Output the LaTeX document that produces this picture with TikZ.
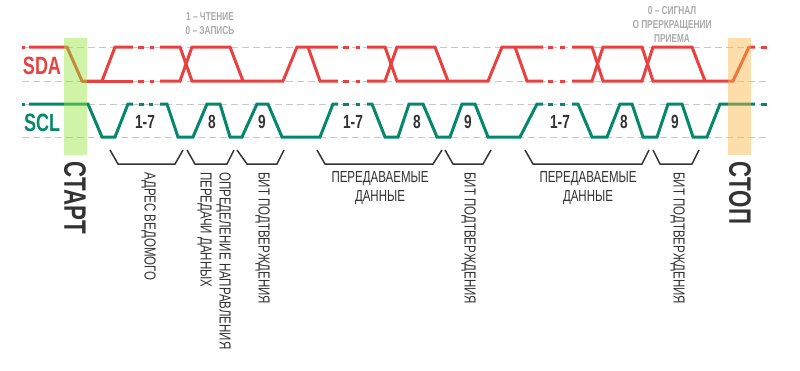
\documentclass[tikz,border=0pt]{standalone}
\usepackage{fontspec}
\setmainfont{Liberation Sans}
\newfontfamily\cnd[FakeStretch=0.72]{Liberation Sans}
\definecolor{sdared}{RGB}{232,65,63}
\definecolor{sclgreen}{RGB}{4,135,107}
\definecolor{guide}{RGB}{200,200,200}
\definecolor{txt}{RGB}{51,51,51}
\definecolor{note}{RGB}{170,170,170}
\definecolor{startfill}{RGB}{151,231,60}
\definecolor{stopfill}{RGB}{251,182,67}
\tikzset{
  guideline/.style={guide, line width=1pt, dash pattern=on 7pt off 4pt},
  sda/.style={sdared, line width=3pt, line join=miter},
  scl/.style={sclgreen, line width=3pt, line join=miter},
  brace/.style={txt, line width=1.5pt},
  bitlabel/.style={txt, font=\cnd\bfseries\fontsize{19}{19}\selectfont},
  sig/.style={font=\cnd\bfseries\fontsize{25}{25}\selectfont},
  notetext/.style={note, font=\cnd\bfseries\fontsize{11.5}{14}\selectfont, align=center},
  vtext/.style={txt, font=\cnd\fontsize{16}{19}\selectfont, rotate=-90, anchor=north west, align=left, inner sep=0pt},
  htext/.style={txt, font=\cnd\fontsize{16}{19.5}\selectfont, align=center, anchor=north, inner sep=0pt},
  bigv/.style={txt, font=\cnd\bfseries\fontsize{31}{31}\selectfont, rotate=-90, inner sep=0pt},
  marker/.style={fill opacity=0.45}
}
\begin{document}
\begin{tikzpicture}[x=1pt,y=-1pt]
\useasboundingbox (0,0) rectangle (800,370);
% guide lines
\foreach \yy in {47,81,104,137}
  \draw[guideline] (22,\yy) -- (767,\yy);
% ---------- SDA ----------
\draw[sda] (22,47) -- (25,47);
\draw[sda] (29,47) -- (67,47) -- (82,81) -- (102,81) -- (115,47) -- (133,47);
\draw[sda] (82,81) -- (133,81);
\foreach \xa/\xb in {138/144,150/154,343/349,356/360,548/553,560/565}{
  \draw[sda] (\xa,47) -- (\xb,47);
  \draw[sda] (\xa,81) -- (\xb,81);
}
\draw[sda] (160,47) -- (180,47) -- (192,81) -- (283,81) -- (297,47) -- (338,47);
\draw[sda] (160,81) -- (180,81) -- (192,47) -- (230,47) -- (243,81);
\draw[sda] (308,47) -- (320,81) -- (338,81);
\draw[sda] (367,47) -- (385,47) -- (397,81) -- (488,81) -- (502,47) -- (543,47);
\draw[sda] (367,81) -- (385,81) -- (397,47) -- (435,47) -- (448,81);
\draw[sda] (515,47) -- (527,81) -- (543,81);
\draw[sda] (572,47) -- (592,47) -- (603,81) -- (642,81) -- (653,47) -- (692,47) -- (705,81);
\draw[sda] (572,81) -- (592,81) -- (603,47) -- (642,47) -- (653,81) -- (733,81) -- (749,47) -- (755,47);
\draw[sda] (761,47) -- (767,47);
% ---------- SCL ----------
\draw[scl] (22,104) -- (25,104);
\draw[scl] (29,104) -- (88,104) -- (102,137) -- (115,137) -- (128,104) -- (133,104);
\foreach \xa/\xb in {139/144,149/153,343/349,356/360,548/553,560/565}
  \draw[scl] (\xa,104) -- (\xb,104);
\draw[scl] (160,104) -- (167,104) -- (178,137) -- (193,137) -- (207,104) -- (220,104)
  -- (230,137) -- (242,137) -- (257,104) -- (268,104) -- (282,137) -- (320,137)
  -- (333,104) -- (338,104);
\draw[scl] (367,104) -- (372,104) -- (385,137) -- (398,137) -- (409,104) -- (423,104)
  -- (437,137) -- (450,137) -- (462,104) -- (475,104) -- (488,137) -- (520,137)
  -- (537,104) -- (543,104);
\draw[scl] (572,104) -- (578,104) -- (592,137) -- (607,137) -- (620,104) -- (632,104)
  -- (643,137) -- (657,137) -- (668,104) -- (682,104) -- (693,137) -- (707,137)
  -- (720,104) -- (755,104);
\draw[scl] (761,104) -- (767,104);
% start / stop markers
\fill[startfill, marker] (64,38) rectangle (87,155);
\fill[stopfill, marker] (728,38) rectangle (751,155);
% signal names
\node[sig, text=sdared] (sdaname) at (42,66) {SDA};
\node[sig, text=sclgreen] (sclname) at (42,123) {SCL};
% bit labels
\node[bitlabel] (b17a) at (145,122) {1-7};
\node[bitlabel] (b8a) at (212,122) {8};
\node[bitlabel] (b9a) at (262,122) {9};
\node[bitlabel] (b17b) at (353,122) {1-7};
\node[bitlabel] (b8b) at (417,122) {8};
\node[bitlabel] (b9b) at (468,122) {9};
\node[bitlabel] (b17c) at (560,122) {1-7};
\node[bitlabel] (b8c) at (624,122) {8};
\node[bitlabel] (b9c) at (675,122) {9};
% notes
\node[notetext] (rw) at (210,24) {1 – ЧТЕНИЕ\\0 – ЗАПИСЬ};
\node[notetext] (nack) at (672,24) {0 – СИГНАЛ\\О ПРЕРКРАЩЕНИИ\\ПРИЕМА};
% braces
\foreach \a/\b/\c/\d in {110/118/175/183, 187/195/227/234, 237/247/277/284, 317/325/433/442,
  445/453/483/491, 525/533/642/649, 653/660/692/699}
  \draw[brace] (\a,150) -- (\b,164) -- (\c,164) -- (\d,150);
% texts below
\node[bigv] (start) at (75,198) {СТАРТ};
\node[bigv] (stop) at (740,193) {СТОП};
\node[vtext] (addr) at (156,172) {АДРЕС ВЕДОМОГО};
\node[vtext] (dir) at (231,172) {ОПРЕДЕЛЕНИЕ НАПРАВЛЕНИЯ\\ПЕРЕДАЧИ ДАННЫХ};
\node[vtext] (ack1) at (270,172) {БИТ ПОДТВЕРЖДЕНИЯ};
\node[vtext] (ack2) at (476,172) {БИТ ПОДТВЕРЖДЕНИЯ};
\node[vtext] (ack3) at (685,172) {БИТ ПОДТВЕРЖДЕНИЯ};
\node[htext] (data1) at (380,171) {ПЕРЕДАВАЕМЫЕ\\ДАННЫЕ};
\node[htext] (data2) at (588,171) {ПЕРЕДАВАЕМЫЕ\\ДАННЫЕ};
\end{tikzpicture}
\end{document}
